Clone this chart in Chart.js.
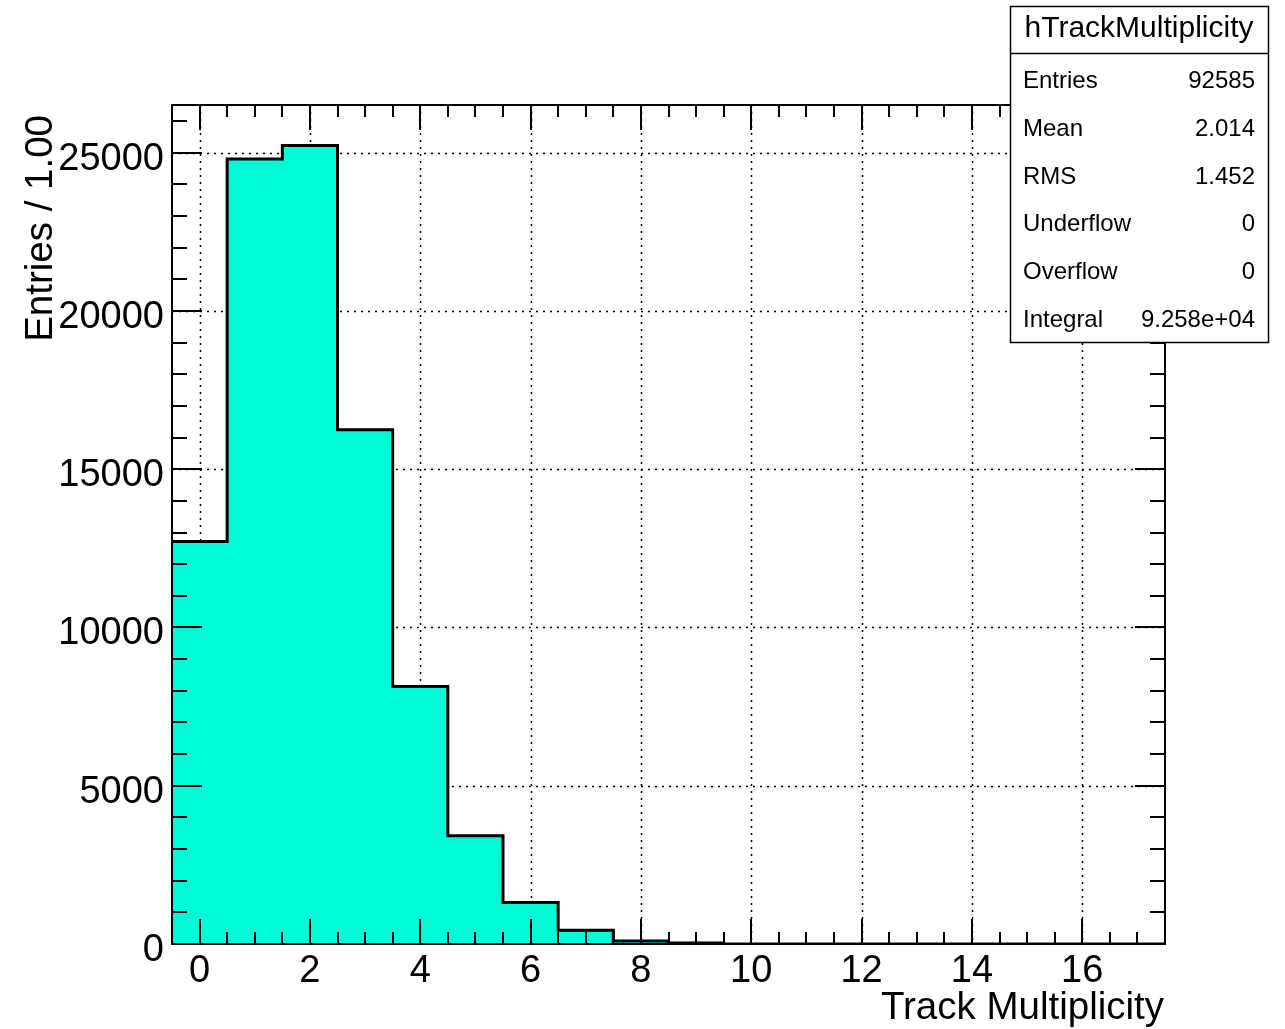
<!DOCTYPE html>
<html>
<head>
<meta charset="utf-8">
<script src="https://cdn.jsdelivr.net/npm/chart.js@4.4.0/dist/chart.umd.min.js"></script>
<style>
  html, body { margin: 0; padding: 0; background: #fff; overflow: hidden; }
  #wrap { width: 1285px; height: 1029px; }
</style>
</head>
<body>
<div id="wrap"><canvas id="grafico" width="1285" height="1029"></canvas></div>
<script>
// bins of the histogram (centres) and their entries
const binCenters = [0, 1, 2, 3, 4, 5, 6, 7, 8, 9, 10, 11, 12, 13, 14, 15, 16, 17];
const counts = [12720, 24800, 25230, 16250, 8135, 3420, 1308, 436, 98, 32, 3, 0, 0, 0, 0, 0, 0, 0];
const xTickLabels = [0, 2, 4, 6, 8, 10, 12, 14, 16];
const yTickLabels = [0, 5000, 10000, 15000, 20000, 25000];
const statNames = ["Entries", "Mean", "RMS", "Underflow", "Overflow", "Integral"];
const statValues = ["92585", "2.014", "1.452", "0", "0", "9.258e+04"];
const histName = "hTrackMultiplicity";
const xTitle = "Track Multiplicity";
const yTitle = "Entries / 1.00";

const X_MIN = -0.5, X_MAX = 17.5;
const Y_MIN = 0, Y_MAX = 26507;
const FONT = '"Liberation Sans", Arial, Helvetica, sans-serif';

// stepped outline: one point per bin low edge + closing point at the last edge
const pontos = binCenters.map((c, i) => ({ x: c - 0.5, y: counts[i] }));
pontos.push({ x: X_MAX, y: counts[counts.length - 1] });

function texto(ctx, s, x, y, size, align) {
    ctx.font = `${size}px ${FONT}`;
    ctx.textAlign = align;
    ctx.textBaseline = "alphabetic";
    ctx.fillStyle = "#000";
    ctx.fillText(s, x, y);
}

const rootFrame = {
    id: "rootFrame",
    beforeDatasetsDraw(chart) {
        const { ctx, chartArea: a, scales: { x, y } } = chart;
        ctx.save();
        ctx.strokeStyle = "#000";
        ctx.lineWidth = 1.5;
        ctx.setLineDash([2, 5]);
        xTickLabels.forEach(v => {
            const px = Math.round(x.getPixelForValue(v)) + 0.5;
            ctx.beginPath(); ctx.moveTo(px, a.top); ctx.lineTo(px, a.bottom); ctx.stroke();
        });
        yTickLabels.forEach(v => {
            if (v === 0) return;
            const py = Math.round(y.getPixelForValue(v)) + 0.5;
            ctx.beginPath(); ctx.moveTo(a.left, py); ctx.lineTo(a.right, py); ctx.stroke();
        });
        ctx.restore();
    },
    afterDatasetsDraw(chart) {
        const { ctx, chartArea: a, scales: { x, y } } = chart;
        ctx.save();
        ctx.strokeStyle = "#000";
        ctx.lineWidth = 2;

        // x ticks, bottom and top (major every 2, minor every 0.5)
        for (let k = Math.ceil(X_MIN * 2); k <= X_MAX * 2; k++) {
            const v = k / 2;
            const px = Math.round(x.getPixelForValue(v));
            const major = v % 2 === 0;
            const len = major ? 25 : 12;
            ctx.beginPath();
            ctx.moveTo(px, a.bottom); ctx.lineTo(px, a.bottom - len);
            ctx.moveTo(px, a.top); ctx.lineTo(px, a.top + len);
            ctx.stroke();
        }
        // y ticks, left and right (major every 5000, minor every 1000)
        for (let v = 1000; v <= Y_MAX; v += 1000) {
            const py = Math.round(y.getPixelForValue(v));
            const len = v % 5000 === 0 ? 30 : 15;
            ctx.beginPath();
            ctx.moveTo(a.left, py); ctx.lineTo(a.left + len, py);
            ctx.moveTo(a.right, py); ctx.lineTo(a.right - len, py);
            ctx.stroke();
        }
        // frame
        ctx.strokeRect(a.left, a.top, a.right - a.left, a.bottom - a.top);

        // tick labels
        xTickLabels.forEach(v => texto(ctx, String(v), x.getPixelForValue(v), 982, 38, "center"));
        yTickLabels.forEach(v => texto(ctx, String(v), 164, y.getPixelForValue(v) + 17, 38, "right"));

        // axis titles
        texto(ctx, xTitle, 1164, 1019, 38.5, "right");
        ctx.save();
        ctx.translate(52, 115);
        ctx.rotate(-Math.PI / 2);
        texto(ctx, yTitle, 0, 0, 38.5, "right");
        ctx.restore();

        // stats box
        const bx = 1010, by = 6, bw = 258, bh = 336;
        ctx.fillStyle = "#fff";
        ctx.fillRect(bx, by, bw, bh);
        ctx.lineWidth = 1.5;
        ctx.strokeRect(bx + 0.5, by + 0.5, bw, bh);
        ctx.beginPath(); ctx.moveTo(bx, 53.5); ctx.lineTo(bx + bw, 53.5); ctx.stroke();
        texto(ctx, histName, bx + bw / 2, 37, 30, "center");
        statNames.forEach((n, i) => {
            const base = 88 + i * 47.8;
            texto(ctx, n, 1023, base, 24, "left");
            texto(ctx, statValues[i], 1255, base, 24, "right");
        });
        ctx.restore();
    }
};

new Chart(document.getElementById("grafico").getContext("2d"), {
    type: "line",
    data: {
        datasets: [{
            data: pontos,
            stepped: true,
            borderColor: "#000",
            borderWidth: 3,
            backgroundColor: "#00fcd6",
            fill: "origin",
            pointRadius: 0,
            tension: 0
        }]
    },
    options: {
        responsive: false,
        animation: false,
        devicePixelRatio: 1,
        layout: { padding: { left: 172, top: 105, right: 120, bottom: 85 } },
        plugins: { legend: { display: false }, tooltip: { enabled: false } },
        scales: {
            x: { type: "linear", min: X_MIN, max: X_MAX, display: false },
            y: { type: "linear", min: Y_MIN, max: Y_MAX, display: false }
        }
    },
    plugins: [rootFrame]
});
</script>
</body>
</html>
